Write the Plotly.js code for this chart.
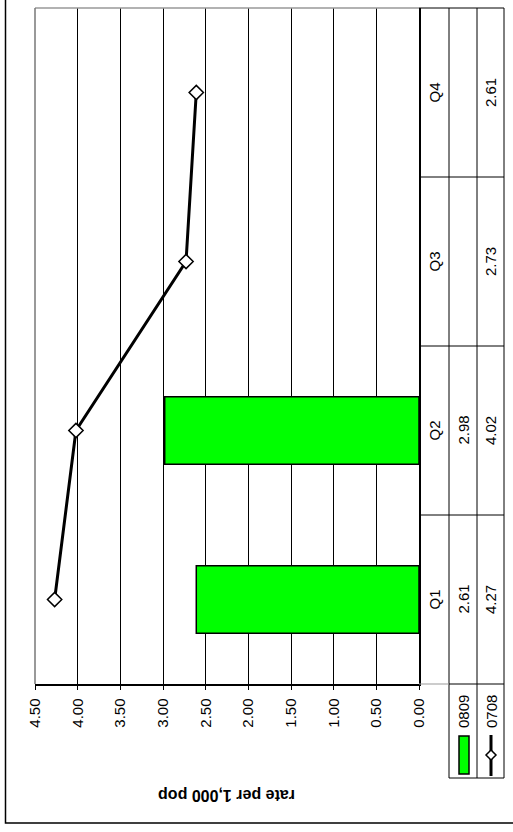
<!DOCTYPE html>
<html>
<head>
<meta charset="utf-8">
<script src="https://cdn.plot.ly/plotly-3.0.1.min.js"></script>
<style>html,body{margin:0;padding:0;background:#fff;}#chart{width:513px;height:832px;}</style>
</head>
<body>
<div id="chart"></div>
<script>
const categories = ['Q1', 'Q2', 'Q3', 'Q4'];
const s0809 = [2.61, 2.98, null, null];
const s0708 = [4.27, 4.02, 2.73, 2.61];
const seriesNames = ['0809', '0708'];
const valueTicks = [0, 0.5, 1, 1.5, 2, 2.5, 3, 3.5, 4, 4.5];
const valueTickText = ['0.00', '0.50', '1.00', '1.50', '2.00', '2.50', '3.00', '3.50', '4.00', '4.50'];
const axisTitle = 'rate per 1,000 pop';

// plot area in pixels
const W = 513, H = 832, L = 35, R = 419, T = 8, B = 684;
const px = x => (x - L) / (R - L);
const py = y => (B - y) / (B - T);

const FONT = 'Liberation Sans, Arial, sans-serif';
const fs = 15;

const traces = [
  {
    type: 'bar', orientation: 'h', name: seriesNames[0],
    x: s0809, y: categories, width: 0.4,
    marker: {color: '#00FF00', line: {color: '#000', width: 1.5}},
    hoverinfo: 'skip'
  },
  {
    type: 'scatter', mode: 'lines+markers', name: seriesNames[1],
    x: s0708, y: categories,
    line: {color: '#000', width: 3},
    marker: {symbol: 'diamond', size: 11, color: '#fff', line: {color: '#000', width: 1.5}},
    hoverinfo: 'skip'
  }
];

const colX = [px(434), px(463), px(490.5)];
const shapes = [];
const ann = [];
const line = (x0, y0, x1, y1, color, width, yref) => shapes.push({
  type: 'line', xref: 'paper', yref: yref || 'paper', x0, y0, x1, y1,
  line: {color: color || '#000', width: width || 1}, layer: 'above'
});

// plot-area top and left border
line(0, 1, 1, 1, '#999', 1.5);
line(0, 0, 0, 1, '#777', 1.5);
// table vertical lines
line(px(449), 1, px(449), py(778));
line(px(477), 1, px(477), py(778));
line(px(504), 1, px(504), py(778));
// table horizontal lines
line(1, 1, px(504), 1);
line(1, 0, px(449), 0, '#999');
line(px(449), 0, px(504), 0);
line(px(449), py(778), px(504), py(778));
for (let i = 0; i < categories.length - 1; i++) line(1, i + 0.5, px(504), i + 0.5, '#000', 1, 'y');

// outer chart border (partly outside the image)
shapes.push({type: 'rect', xref: 'paper', yref: 'paper', x0: px(5.5), y0: py(823), x1: px(530), y1: py(-10),
  line: {color: '#000', width: 1.5}, fillcolor: 'rgba(0,0,0,0)', layer: 'below'});

// legend keys inside the data table
shapes.push({type: 'rect', xref: 'paper', yref: 'paper', x0: px(459), x1: px(469), y0: py(774), y1: py(736),
  fillcolor: '#00FF00', line: {color: '#000', width: 1.5}});
line(px(491), py(735), px(491), py(776), '#000', 3);
{
  const cx = px(491), cy = py(755), dx = 5 / (R - L), dy = 5 / (B - T);
  shapes.push({type: 'path', xref: 'paper', yref: 'paper',
    path: `M ${cx},${cy + dy} L ${cx + dx},${cy} L ${cx},${cy - dy} L ${cx - dx},${cy} Z`,
    fillcolor: '#fff', line: {color: '#000', width: 1.5}});
}

const txt = (x, y, text, yref, extra) => ann.push(Object.assign({
  xref: 'paper', yref: yref || 'paper', x, y, text, showarrow: false, textangle: -90,
  xanchor: 'center', yanchor: 'middle', font: {family: FONT, size: fs, color: '#000'}
}, extra || {}));

categories.forEach((c, i) => {
  txt(colX[0], c, c, 'y');
  if (s0809[i] !== null) txt(colX[1], c, s0809[i].toFixed(2), 'y');
  if (s0708[i] !== null) txt(colX[2], c, s0708[i].toFixed(2), 'y');
});
txt(px(463), py(712), seriesNames[0]);
txt(px(491), py(712), seriesNames[1]);

// axis title, upside down
ann.push({xref: 'paper', yref: 'paper', x: px(227), y: py(795), text: '<b>' + axisTitle + '</b>',
  showarrow: false, textangle: 180, xanchor: 'center', yanchor: 'middle',
  font: {family: FONT, size: 16, color: '#000'}});

const layout = {
  width: W, height: H,
  margin: {l: L, r: W - R, t: T, b: H - B, pad: 0},
  paper_bgcolor: '#fff', plot_bgcolor: '#fff',
  showlegend: false,
  font: {family: FONT, size: fs, color: '#000'},
  xaxis: {
    range: [4.5, 0], tickvals: valueTicks, ticktext: valueTickText, tickangle: -90,
    ticks: 'outside', ticklen: 4, tickcolor: '#000', ticklabelstandoff: 3,
    showgrid: true, gridcolor: '#000', gridwidth: 1,
    showline: true, linecolor: '#000', linewidth: 1.5, zeroline: false,
    tickfont: {family: FONT, size: 15, color: '#000'}, fixedrange: true
  },
  yaxis: {
    type: 'category', categoryarray: categories, categoryorder: 'array', range: [-0.5, 3.5],
    showticklabels: false, ticks: '', showgrid: false, zeroline: false,
    showline: true, linecolor: '#000', linewidth: 1.5, mirror: false, side: 'right', fixedrange: true
  },
  shapes: shapes,
  annotations: ann
};

Plotly.newPlot('chart', traces, layout, {staticPlot: true, displayModeBar: false});
</script>
</body>
</html>
